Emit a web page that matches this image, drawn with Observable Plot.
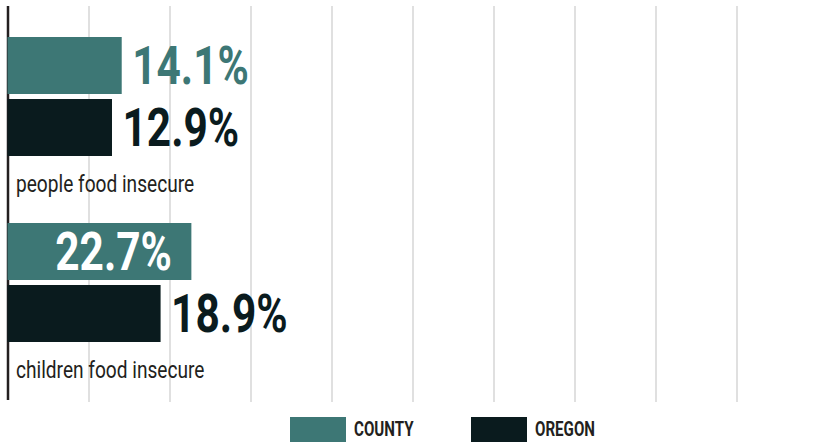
<!DOCTYPE html>
<html><head><meta charset="utf-8">
<script src="https://cdn.jsdelivr.net/npm/d3@7"></script>
<script src="https://cdn.jsdelivr.net/npm/@observablehq/plot@0.6"></script>
<style>
html,body{margin:0;padding:0;background:#fff;}
body{font-family:Roboto,sans-serif;width:822px;height:442px;overflow:hidden;}
#legend{display:flex;padding-left:290px;margin-top:5px;height:26px;}
.item{display:flex;align-items:center;width:181px;}
.sw{width:56px;height:25px;margin-right:8px;flex:none;}
.lab{font-weight:bold;font-size:21px;color:#231f20;display:inline-block;transform:scaleX(0.72);transform-origin:left center;white-space:nowrap;}
</style></head><body><div id="chart"></div><div id="legend"></div>
<script>
const groups = ["people food insecure", "children food insecure"];
const series = ["COUNTY", "OREGON"];
const county = [14.1, 22.7];
const oregon = [12.9, 18.9];
const colors = ["#3d7775", "#0a1b1e"];
const gridTicks = [10, 20, 30, 40, 50, 60, 70, 80, 90];

const rows = [];
groups.forEach((g, i) => {
  rows.push({group: g, series: "COUNTY", value: county[i]});
  rows.push({group: g, series: "OREGON", value: oregon[i]});
});
const key = d => d.group + "|" + d.series;
const yDomain = groups.flatMap(g => [g + "|COUNTY", g + "|OREGON", g + "|label"]);
const labels = groups.map(g => ({group: g, key: g + "|label"}));
const maxV = d3.max(rows, d => d.value);
const inside = rows.filter(d => d.value === maxV);
const outside = rows.filter(d => d.value !== maxV);
const fmt = d => d.value.toFixed(1) + "%";

const chart = Plot.plot({
  width: 822, height: 411,
  marginTop: 31, marginBottom: 0, marginLeft: 7.5, marginRight: 4.5,
  style: {fontFamily: "Roboto, sans-serif", background: "#fff"},
  x: {domain: [0, 100], axis: null},
  y: {domain: yDomain, axis: null, padding: 0.08},
  color: {domain: series, range: colors},
  marks: [
    Plot.gridX(gridTicks, {stroke: "#d6d6d6", strokeOpacity: 1, strokeWidth: 1.5, insetTop: -25, insetBottom: 9}),
    Plot.ruleX([0], {stroke: "#231f20", strokeWidth: 2.5, insetTop: -25, insetBottom: 11}),
    Plot.barX(rows, {x: "value", y: key, fill: "series"}),
    Plot.text(outside, {x: "value", y: key, text: fmt, fill: "series", textAnchor: "start", dx: 10, dy: 1, fontSize: 53, fontWeight: "bold"}),
    Plot.text(inside, {x: "value", y: key, text: fmt, fill: "white", textAnchor: "end", dx: -20, dy: 1, fontSize: 53, fontWeight: "bold"}),
    Plot.text(labels, {x: 0, y: "key", text: "group", textAnchor: "start", dx: 8, dy: -5.5, fontSize: 24.5, fill: "#231f20"})
  ]
});
document.getElementById("chart").appendChild(chart);

// condense the text horizontally (the reference uses a condensed face)
const textGroups = chart.querySelectorAll('g[aria-label="text"]');
const squeeze = [0.8, 0.8, 0.78];
textGroups.forEach((g, i) => {
  g.querySelectorAll("text").forEach(t => {
    const tr = t.getAttribute("transform") || "";
    t.setAttribute("transform", tr + ` scale(${squeeze[i]},1)`);
  });
});

const leg = document.getElementById("legend");
series.forEach((s, i) => {
  const it = document.createElement("div"); it.className = "item";
  const sw = document.createElement("div"); sw.className = "sw"; sw.style.background = colors[i];
  const lb = document.createElement("span"); lb.className = "lab"; lb.textContent = s;
  it.appendChild(sw); it.appendChild(lb); leg.appendChild(it);
});
</script></body></html>
